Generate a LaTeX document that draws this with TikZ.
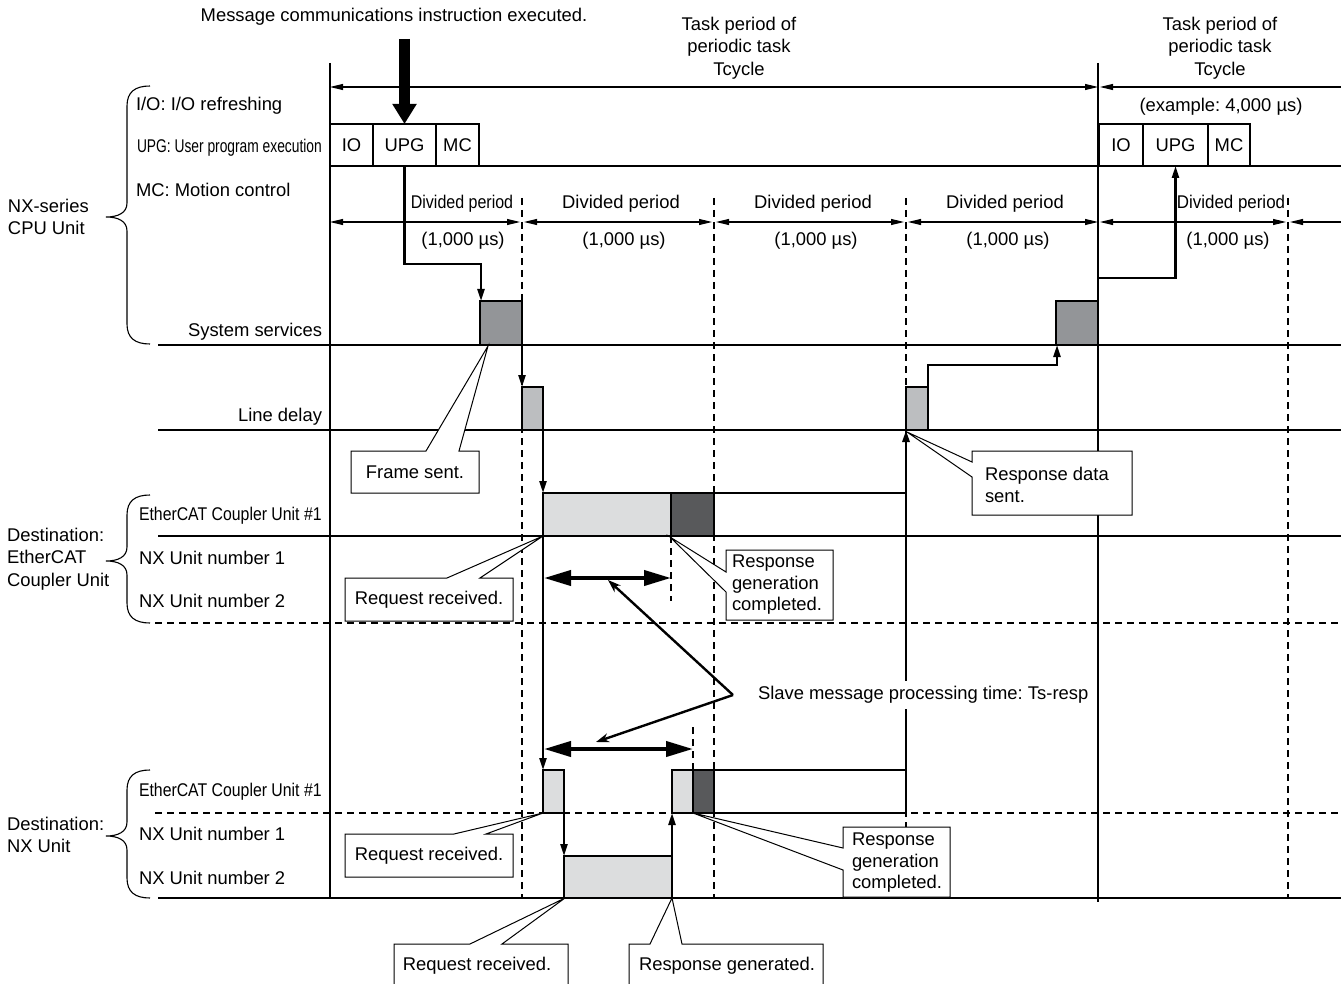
\documentclass[tikz,border=0pt]{standalone}
\usepackage{graphicx}
\usepackage{fontspec}
\setmainfont{Liberation Sans}
\usetikzlibrary{arrows.meta,positioning}
\definecolor{ssgray}{HTML}{939598}
\definecolor{ldgray}{HTML}{BCBEC0}
\definecolor{rxgray}{HTML}{DCDDDE}
\definecolor{txgray}{HTML}{58595B}
\frenchspacing

\begin{document}
\begin{tikzpicture}[x=1pt, y=-1pt, line join=miter,
  every node/.style={font=\fontsize{18.4}{22.5}\selectfont, inner sep=0pt, outer sep=0pt},
  grid/.style={line width=1.1pt},
  dgrid/.style={line width=1.1pt, dash pattern=on 7pt off 5pt},
  seg/.style={draw, line width=1.1pt, minimum height=42pt},
  blk/.style={draw, line width=1.1pt, anchor=south west, minimum height=43pt},
  flow/.style={line width=2.3pt, -{Triangle[length=12pt,width=7pt]}},
  dim/.style={line width=1.1pt, {Triangle[length=13pt,width=6pt]}-{Triangle[length=13pt,width=6pt]}},
  span/.style={line width=4pt, {Triangle[length=27pt,width=15pt]}-{Triangle[length=27pt,width=15pt]}},
  hint/.style={line width=2.4pt, -{Stealth[length=13pt,width=9pt]}},
  callout/.style={draw, fill=white, line width=1pt},
  three/.style={anchor=west, align=left, font=\fontsize{18.4}{21.5}\selectfont}]
\useasboundingbox (0,0) rectangle (1341,984);
% time axis
\draw[grid] (330,63) -- (330,898);
\draw[grid] (1098,63) -- (1098,902);
\draw[grid] (330,166) -- (1341,166);
\foreach \y in {345,430,536,898}
  \draw[grid] (158,\y) -- (1341,\y);
\foreach \y in {623,813}
  \draw[dgrid] (155,\y) -- (1341,\y);
\foreach \x in {522,714,906,1288}
  \draw[dgrid] (\x,198) -- (\x,898);
% task period and divided periods
\draw[dim] (330,87) -- (1098,87);
\draw[line width=1.1pt, {Triangle[length=13pt,width=6pt]}-] (1100,87) -- (1341,87);
\foreach \a/\b in {330/520, 524/712, 716/904, 908/1098, 1100/1286}
  \draw[dim] (\a,222) -- (\b,222);
\draw[line width=1.1pt, {Triangle[length=13pt,width=6pt]}-] (1290,222) -- (1341,222);
% CPU unit segments
\node[seg, minimum width=43pt, anchor=south west] (io1) at (330,166) {IO};
\node[seg, minimum width=63pt, right=0pt of io1] (upg1) {UPG};
\node[seg, minimum width=43pt, right=0pt of upg1] (mc1) {MC};
\node[seg, minimum width=44pt, anchor=south west] (io2) at (1099,166) {IO};
\node[seg, minimum width=65pt, right=0pt of io2] (upg2) {UPG};
\node[seg, minimum width=42pt, right=0pt of upg2] (mc2) {MC};
% processing blocks
\node[blk, fill=ssgray, minimum width=42pt, minimum height=44pt] (ss1) at (480,345) {};
\node[blk, fill=ldgray, minimum width=21pt] (ld1) at (522,430) {};
\node[blk, fill=rxgray, minimum width=128pt] (ec1) at (543,536) {};
\node[blk, fill=txgray, minimum width=43pt, right=0pt of ec1] (ed1) {};
\node[blk, fill=ldgray, minimum width=22pt] (ld2) at (906,430) {};
\node[blk, fill=ssgray, minimum width=42pt, minimum height=44pt] (ss2) at (1056,345) {};
\node[blk, fill=rxgray, minimum width=21pt] (nc1) at (543,813) {};
\node[blk, fill=rxgray, minimum width=108pt, minimum height=42pt] (nu2) at (564,898) {};
\node[blk, fill=rxgray, minimum width=21pt] (nc2) at (672,813) {};
\node[blk, fill=txgray, minimum width=21pt, right=0pt of nc2] (nd2) {};
\draw[grid] (ed1.north east) -- (ld2.south west |- ed1.north east);
\draw[grid] (nd2.north east) -- (ld2.south west |- nd2.north east)
  -- (ld2.south west |- nd2.south east) -- (nd2.south east);
% message flow
\node (msg) at (394,17) {Message communications instruction executed.};
\draw[line width=11pt, -{Triangle[length=20pt,width=23pt]}] (upg1.north) ++(0,-85) -- (upg1.north);
\draw[flow] (upg1.south) -- ++(0,98) -| ([xshift=1pt]ss1.north west);
\draw[flow] (ss1.south east) -- (ld1.north west);
\draw[flow] (ld1.south east) -- (ec1.north west);
\draw[flow] (ec1.south west) -- (nc1.north west);
\draw[flow] (nc1.south east) -- (nu2.north west);
\draw[flow] (nu2.north east) -- (nc2.south west);
\draw[flow, line width=2.8pt] (ld2.south west |- nd2.north east) -- (ld2.south west);
\draw[flow] (ld2.north east) -- ++(0,-22) -| ([xshift=1pt]ss2.south west);
\draw[flow] (ss2.north east) -- ++(0,-23) -| (upg2.south);
% slave processing time
\draw[span] ([xshift=1pt,yshift=-42pt]ec1.south west) -- ([yshift=-42pt]ec1.south east);
\draw[dgrid] (ec1.south east) -- ++(0,65);
\draw[span] ([xshift=1pt,yshift=21pt]nc1.north west) -- ([yshift=21pt]nc2.north east);
\draw[dgrid] (nc2.north east) -- ++(0,-43);
\node[anchor=west, fill=white, inner xsep=1pt, inner ysep=5pt] (tsr) at (757,695) {Slave message processing time: Ts-resp};
\coordinate (tsx) at ([xshift=-24pt]tsr.west);
\draw[hint] (tsx) -- (608,580);
\draw[hint] (tsx) -- (596,742);
% callouts
\draw[callout] (351,451) -- (426,451) -- (488,346) -- (459,451) -- (479,451) -- (479,493) -- (351,493) -- cycle;
\node (fs) at (415,472) {Frame sent.};
\draw[callout] (345,578) -- (447,578) -- (543,536) -- (480,578) -- (513,578) -- (513,621) -- (345,621) -- cycle;
\node (rq1) at (429,600) {Request received.};
\draw[callout] (726,550) -- (833,550) -- (833,620) -- (726,620) -- (726,592) -- (670,537) -- (726,572) -- cycle;
\node[three] (rg1) at (732,585) {Response\\generation\\completed.};
\draw[callout] (972,451) -- (1132,451) -- (1132,515) -- (972,515) -- (972,477) -- (907,432) -- (972,462) -- cycle;
\node[anchor=west, align=left] (rds) at (985,485) {Response data\\sent.};
\draw[callout] (345,834) -- (454,834) -- (543,813) -- (486,834) -- (513,834) -- (513,877) -- (345,877) -- cycle;
\node (rq2) at (429,856) {Request received.};
\draw[callout] (394,984) -- (394,944) -- (470,944) -- (565,898) -- (502,944) -- (568,944) -- (568,984);
\node (rq3) at (477,966) {Request received.};
\draw[callout] (629,984) -- (629,944) -- (650,944) -- (672,898) -- (682,944) -- (823,944) -- (823,984);
\node (rgd) at (727,966) {Response generated.};
\draw[callout] (843,827) -- (950,827) -- (950,897) -- (843,897) -- (843,870) -- (693,813) -- (843,848) -- cycle;
\node[three] (rg2) at (852,863) {Response\\generation\\completed.};
% top labels
\node[align=center] (tp1) at (739,48) {Task period of\\periodic task\\Tcycle};
\node[align=center] (tp2) at (1220,48) {Task period of\\periodic task\\Tcycle};
\node (ex4) at (1221,107) {(example: 4,000 µs)};
\node (dp1) at (462,204) {\scalebox{0.87}[1]{Divided period}};
\foreach \c [count=\i from 2] in {621,813,1005}
  \node (dp\i) at (\c,204) {Divided period};
\node (dp5) at (1231,204) {\scalebox{0.92}[1]{Divided period}};
\foreach \c [count=\i] in {463,624,816,1008,1228}
  \node (us\i) at (\c,241) {(1,000 µs)};
% row labels
\node[anchor=west] (iol) at (136,106) {I/O: I/O refreshing};
\node[anchor=west] (upgl) at (137,148) {\scalebox{0.75}[1]{UPG: User program execution}};
\node[anchor=west] (mcl) at (136,190) {MC: Motion control};
\node[anchor=east] (ssl) at (322,332) {System services};
\node[anchor=east] (ldl) at (322,417) {Line delay};
\node[anchor=west] (ecl1) at (139,516) {\scalebox{0.86}[1]{EtherCAT Coupler Unit \#1}};
\node[anchor=west] (nua1) at (139,558) {NX Unit number 1};
\node[anchor=west] (nua2) at (139,601) {NX Unit number 2};
\node[anchor=west] (ecl2) at (139,792) {\scalebox{0.86}[1]{EtherCAT Coupler Unit \#1}};
\node[anchor=west] (nub1) at (139,834) {NX Unit number 1};
\node[anchor=west] (nub2) at (139,878) {NX Unit number 2};
% groups
\draw[line width=1.1pt] (150,86) .. controls (135,86) and (127,92) .. (127,106) -- (127,203)
  .. controls (127,213) and (118,217) .. (106,217) .. controls (118,217) and (127,221) .. (127,231)
  -- (127,324) .. controls (127,338) and (135,344) .. (150,344);
\draw[line width=1.1pt] (150,495) .. controls (135,495) and (127,501) .. (127,515) -- (127,547)
  .. controls (127,557) and (118,561) .. (106,561) .. controls (118,561) and (127,565) .. (127,575)
  -- (127,603) .. controls (127,617) and (135,623) .. (150,623);
\draw[line width=1.1pt] (150,770) .. controls (135,770) and (127,776) .. (127,790) -- (127,822)
  .. controls (127,832) and (118,836) .. (106,836) .. controls (118,836) and (127,840) .. (127,850)
  -- (127,878) .. controls (127,892) and (135,898) .. (150,898);
\node[anchor=west, align=left] (cpu) at (8,217) {NX-series\\CPU Unit};
\node[anchor=west, align=left] (dst1) at (7,559) {Destination:\\EtherCAT\\Coupler Unit};
\node[anchor=west, align=left] (dst2) at (7,835) {Destination:\\NX Unit};
\end{tikzpicture}
\end{document}
